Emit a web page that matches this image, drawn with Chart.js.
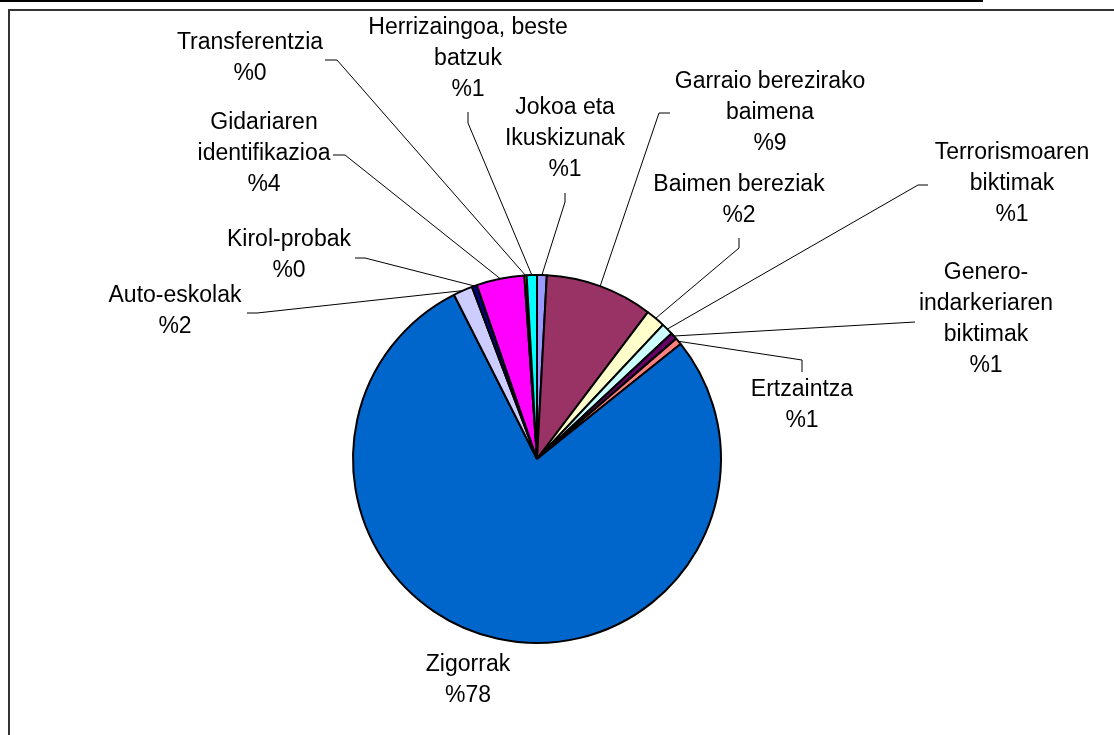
<!DOCTYPE html>
<html>
<head>
<meta charset="utf-8">
<script src="https://cdn.jsdelivr.net/npm/chart.js@4.4.1/dist/chart.umd.min.js"></script>
<style>
  html, body { margin: 0; padding: 0; background: #fff; overflow: hidden; }
  #wrap { position: relative; width: 1114px; height: 735px; }
  #topline { position: absolute; left: 0; top: 0; width: 983px; height: 2px; background: #000; }
  #frame { position: absolute; left: 8px; top: 9px; width: 1200px; height: 800px;
           border-left: 2px solid #333; border-top: 2px solid #333; }
  #pie { position: absolute; left: 0; top: 0; }
</style>
</head>
<body>
<div id="wrap">
  <div id="topline"></div>
  <div id="frame"></div>
  <canvas id="pie" width="1114" height="735"></canvas>
</div>
<script>
const categories = [
  ["Jokoa eta", "Ikuskizunak"],
  ["Garraio berezirako", "baimena"],
  ["Baimen bereziak"],
  ["Terrorismoaren", "biktimak"],
  ["Genero-", "indarkeriaren", "biktimak"],
  ["Ertzaintza"],
  ["Zigorrak"],
  ["Auto-eskolak"],
  ["Kirol-probak"],
  ["Gidariaren", "identifikazioa"],
  ["Transferentzia"],
  ["Herrizaingoa, beste", "batzuk"],
];
const shares = [0.85, 9.45, 1.7, 1.05, 0.6, 0.6, 78.3, 1.7, 0.45, 4.2, 0.2, 0.9];
const sliceColors = ["#9999FF", "#993366", "#FFFFCC", "#CCFFFF", "#660066", "#FF8080",
                     "#0066CC", "#CCCCFF", "#000080", "#FF00FF", "#FFFF00", "#00FFFF"];

// where each label block sits and how its leader line bends
const labelLayout = [
  { x: 565, y: 108, anchor: [565, 193], elbow: [565, 202] },
  { x: 770, y: 82, anchor: [670, 113], elbow: [659, 113] },
  { x: 739, y: 185, anchor: [739, 238], elbow: [739, 248] },
  { x: 1012, y: 153, anchor: [928, 185], elbow: [918, 185] },
  { x: 986, y: 273, anchor: [915, 322], elbow: [915, 322] },
  { x: 802, y: 390, anchor: [802, 372], elbow: [802, 360] },
  { x: 468, y: 665, anchor: null },
  { x: 175, y: 296, anchor: [247, 313], elbow: [257, 313] },
  { x: 289, y: 240, anchor: [355, 258], elbow: [365, 258] },
  { x: 264, y: 123, anchor: [333, 155], elbow: [345, 155] },
  { x: 250, y: 43, anchor: [325, 60], elbow: [337, 60] },
  { x: 468, y: 28, anchor: [468, 112], elbow: [468, 123] },
];

const total = shares.reduce((a, b) => a + b, 0);

const leaderLabels = {
  id: "leaderLabels",
  afterDatasetsDraw(chart) {
    const c = chart.ctx;
    const arcs = chart.getDatasetMeta(0).data;
    c.save();
    c.font = "23px 'Liberation Sans', Arial, sans-serif";
    c.fillStyle = "#000";
    c.strokeStyle = "#000";
    c.lineWidth = 1;
    c.textAlign = "center";
    c.textBaseline = "middle";
    arcs.forEach((arc, i) => {
      const p = arc.getProps(["x", "y", "startAngle", "endAngle", "outerRadius"], true);
      const mid = (p.startAngle + p.endAngle) / 2;
      const px = p.x + Math.cos(mid) * p.outerRadius;
      const py = p.y + Math.sin(mid) * p.outerRadius;
      const lay = labelLayout[i];
      if (lay.anchor) {
        c.beginPath();
        c.moveTo(lay.anchor[0], lay.anchor[1]);
        c.lineTo(lay.elbow[0], lay.elbow[1]);
        c.lineTo(px, py);
        c.stroke();
      }
      const lines = categories[i].concat(["%" + Math.round(shares[i] / total * 100)]);
      lines.forEach((t, k) => c.fillText(t, lay.x, lay.y + k * 31));
    });
    c.restore();
  },
};

new Chart(document.getElementById("pie"), {
  type: "pie",
  data: {
    labels: categories,
    datasets: [
      {
        data: shares,
        backgroundColor: sliceColors,
        borderColor: "#000",
        borderWidth: 2,
      },
    ],
  },
  options: {
    responsive: false,
    animation: false,
    events: [],
    radius: 184,
    layout: { padding: { left: 0, right: 40, top: 183, bottom: 0 } },
    plugins: {
      legend: { display: false },
      tooltip: { enabled: false },
    },
  },
  plugins: [leaderLabels],
});
</script>
</body>
</html>
